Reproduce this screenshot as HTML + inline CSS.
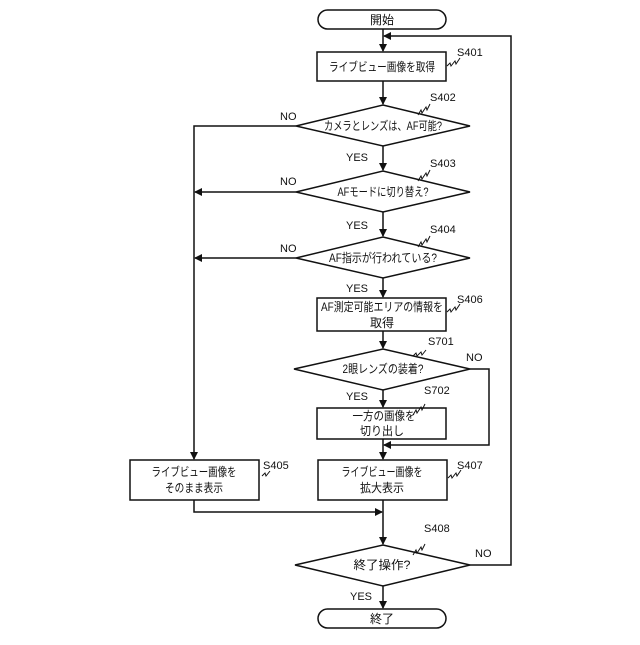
<!DOCTYPE html>
<html><head><meta charset="utf-8"><style>
html,body{margin:0;padding:0;background:#fff}
svg text{font-family:"Liberation Sans","Noto Sans CJK JP",sans-serif;fill:#111}
</style></head><body>
<svg width="640" height="640" viewBox="0 0 640 640" xmlns="http://www.w3.org/2000/svg">
<defs><marker id="a" markerWidth="8" markerHeight="8" refX="7" refY="4" orient="auto" markerUnits="userSpaceOnUse"><path d="M0,0 L8,4 L0,8 z" fill="#111"/></marker></defs>
<g fill="none" stroke="#111" stroke-width="1.5">
<rect x="318" y="10" width="128" height="19" rx="9.5" fill="#fff"/>
<rect x="317" y="52" width="129" height="29"/>
<polygon points="296,126 383,105 470,126 383,146"/>
<polygon points="296,192 383,171 470,192 383,212"/>
<polygon points="296,258 383,237 470,258 383,278"/>
<rect x="317" y="298" width="129" height="33"/>
<polygon points="294,369 383,349 470,369 383,390"/>
<rect x="317" y="408" width="129" height="31"/>
<rect x="130" y="460" width="129" height="40"/>
<rect x="318" y="460" width="129" height="40"/>
<polygon points="295,565 383,545 470,565 383,586"/>
<rect x="318" y="609" width="128" height="19" rx="9.5" fill="#fff"/>
<line x1="383" y1="29" x2="383" y2="51" marker-end="url(#a)"/>
<line x1="383" y1="81" x2="383" y2="104" marker-end="url(#a)"/>
<line x1="383" y1="146" x2="383" y2="170" marker-end="url(#a)"/>
<line x1="383" y1="212" x2="383" y2="236" marker-end="url(#a)"/>
<line x1="383" y1="278" x2="383" y2="297" marker-end="url(#a)"/>
<line x1="383" y1="331" x2="383" y2="348" marker-end="url(#a)"/>
<line x1="383" y1="390" x2="383" y2="407" marker-end="url(#a)"/>
<line x1="383" y1="439" x2="383" y2="459" marker-end="url(#a)"/>
<line x1="383" y1="500" x2="383" y2="544" marker-end="url(#a)"/>
<line x1="383" y1="586" x2="383" y2="608" marker-end="url(#a)"/>
<polyline points="296,126 194,126 194,459" marker-end="url(#a)"/>
<line x1="296" y1="192" x2="195" y2="192" marker-end="url(#a)"/>
<line x1="296" y1="258" x2="195" y2="258" marker-end="url(#a)"/>
<polyline points="470,369 489,369 489,445 384,445" marker-end="url(#a)"/>
<polyline points="194,500 194,512 382,512" marker-end="url(#a)"/>
<polyline points="470,565 511,565 511,36 384,36" marker-end="url(#a)"/>
</g>
<g fill="none" stroke="#111" stroke-width="1">
<path d="M447,66 l3,-3 l1,3 l4,-5 l1,3 l4,-6"/>
<path d="M418,115 l3,-5 l1,3 l4,-6 l1,3 l3,-6"/>
<path d="M418,181 l3,-5 l1,3 l4,-6 l1,3 l3,-6"/>
<path d="M418,247 l3,-5 l1,3 l4,-6 l1,3 l3,-6"/>
<path d="M447,312 l3,-3 l1,3 l4,-5 l1,3 l4,-6"/>
<path d="M413,356 l3,-3 l1,3 l4,-4 l1,3 l4,-5"/>
<path d="M413,415 l3,-5 l1,3 l4,-6 l1,3 l3,-6"/>
<path d="M262,476 l3,-3 l1,3 l4,-5"/>
<path d="M448,478 l3,-3 l1,3 l4,-5 l1,3 l4,-6"/>
<path d="M413,555 l3,-5 l1,3 l4,-6 l1,3 l3,-6"/>
</g>
<g font-size="12" text-anchor="middle" lengthAdjust="spacingAndGlyphs">
<text x="382" y="24">開始</text>
<text x="382" y="71" textLength="106" lengthAdjust="spacingAndGlyphs">ライブビュー画像を取得</text>
<text x="383" y="130" textLength="118" lengthAdjust="spacingAndGlyphs">カメラとレンズは、AF可能?</text>
<text x="383" y="196" textLength="91" lengthAdjust="spacingAndGlyphs">AFモードに切り替え?</text>
<text x="383" y="262" textLength="108" lengthAdjust="spacingAndGlyphs">AF指示が行われている?</text>
<text x="382" y="311" textLength="122" lengthAdjust="spacingAndGlyphs">AF測定可能エリアの情報を</text>
<text x="382" y="327">取得</text>
<text x="383" y="373" textLength="81" lengthAdjust="spacingAndGlyphs">2眼レンズの装着?</text>
<text x="384" y="420" textLength="63" lengthAdjust="spacingAndGlyphs">一方の画像を</text>
<text x="382" y="435" textLength="44" lengthAdjust="spacingAndGlyphs">切り出し</text>
<text x="194" y="476" textLength="85" lengthAdjust="spacingAndGlyphs">ライブビュー画像を</text>
<text x="194" y="492" textLength="58" lengthAdjust="spacingAndGlyphs">そのまま表示</text>
<text x="382" y="476" textLength="81" lengthAdjust="spacingAndGlyphs">ライブビュー画像を</text>
<text x="382" y="492" textLength="44" lengthAdjust="spacingAndGlyphs">拡大表示</text>
<text x="382" y="569" textLength="57" lengthAdjust="spacingAndGlyphs">終了操作?</text>
<text x="382" y="623">終了</text>
</g>
<g font-size="11">
<text x="457" y="56">S401</text>
<text x="430" y="101">S402</text>
<text x="430" y="167">S403</text>
<text x="430" y="233">S404</text>
<text x="457" y="303">S406</text>
<text x="428" y="345">S701</text>
<text x="424" y="394">S702</text>
<text x="263" y="469">S405</text>
<text x="457" y="469">S407</text>
<text x="424" y="532">S408</text>
<text x="280" y="120">NO</text>
<text x="280" y="185">NO</text>
<text x="280" y="252">NO</text>
<text x="466" y="361">NO</text>
<text x="475" y="557">NO</text>
<text x="346" y="161">YES</text>
<text x="346" y="229">YES</text>
<text x="346" y="292">YES</text>
<text x="346" y="400">YES</text>
<text x="350" y="600">YES</text>
</g>
</svg>
</body></html>
